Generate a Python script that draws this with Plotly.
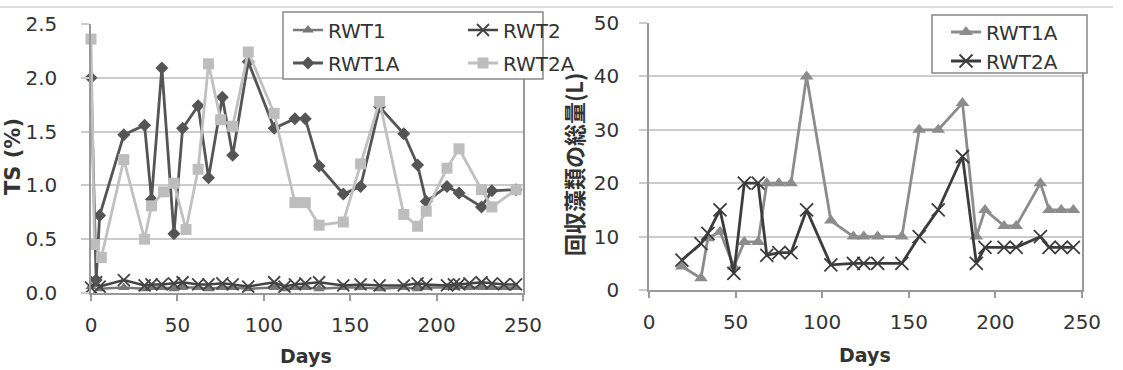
import plotly.graph_objects as go

# ---------------- data: left chart (TS %) ----------------
days_rwt1a = [0, 3, 5, 19, 31, 35, 41, 48, 53, 62, 68, 76, 82, 91, 106, 118, 124, 132, 146, 156, 167, 181, 189, 194, 206, 213, 226, 232, 246]
ts_rwt1a = [2.0, 0.12, 0.72, 1.47, 1.56, 0.87, 2.09, 0.55, 1.53, 1.74, 1.07, 1.82, 1.28, 2.15, 1.53, 1.62, 1.62, 1.18, 0.92, 0.99, 1.73, 1.48, 1.19, 0.85, 0.99, 0.93, 0.80, 0.95, 0.96]

days_rwt2a = [0, 2, 6, 19, 31, 35, 42, 48, 55, 62, 68, 75, 82, 91, 106, 118, 124, 132, 146, 156, 167, 181, 189, 194, 206, 213, 226, 232, 246]
ts_rwt2a = [2.36, 0.45, 0.33, 1.24, 0.50, 0.81, 0.94, 1.02, 0.59, 1.15, 2.13, 1.61, 1.55, 2.24, 1.67, 0.84, 0.84, 0.63, 0.66, 1.20, 1.78, 0.73, 0.62, 0.76, 1.16, 1.34, 0.96, 0.80, 0.96]

days_small = [0, 3, 5, 19, 31, 35, 41, 48, 53, 62, 68, 76, 82, 91, 106, 112, 118, 124, 132, 146, 156, 167, 181, 189, 194, 206, 210, 213, 219, 226, 232, 239, 246]
ts_rwt1 = [0.06, 0.08, 0.04, 0.05, 0.04, 0.05, 0.05, 0.04, 0.05, 0.05, 0.04, 0.05, 0.05, 0.04, 0.05, 0.04, 0.05, 0.05, 0.04, 0.05, 0.05, 0.04, 0.05, 0.04, 0.05, 0.05, 0.05, 0.06, 0.05, 0.05, 0.05, 0.05, 0.05]
ts_rwt2 = [0.05, 0.10, 0.06, 0.12, 0.07, 0.08, 0.08, 0.09, 0.10, 0.08, 0.08, 0.09, 0.08, 0.06, 0.10, 0.06, 0.08, 0.09, 0.10, 0.07, 0.08, 0.07, 0.07, 0.09, 0.08, 0.07, 0.08, 0.08, 0.09, 0.10, 0.09, 0.08, 0.08]

# ---------------- data: right chart (total recovered algae, L) ----------------
days_right = [19, 30, 34, 41, 49, 55, 63, 68, 75, 82, 91, 105, 118, 124, 132, 146, 156, 167, 181, 189, 194, 205, 212, 226, 231, 238, 245]
vol_rwt1a = [4.4, 2.2, 9.7, 10.9, 4.4, 9, 9, 20, 20, 20, 40, 13, 10, 10, 10, 10, 30, 30, 35, 10, 15, 12, 12, 20, 15, 15, 15]
vol_rwt2a = [5.6, 8.7, 10.6, 15, 3.1, 20, 20, 6.5, 7, 7, 15, 4.7, 5, 5, 5, 5, 10, 15, 25, 5, 8, 8, 8, 10, 8, 8, 8]

x_ticks = [0, 50, 100, 150, 200, 250]
ts_ticks = [0.0, 0.5, 1.0, 1.5, 2.0, 2.5]
ts_ticklabels = ["0.0", "0.5", "1.0", "1.5", "2.0", "2.5"]
vol_ticks = [0, 10, 20, 30, 40, 50]

W, H = 1123, 370
FONT = "DejaVu Sans, Verdana, sans-serif"
TXT = "#333333"
GRID = "#cccccc"
AXL = "#999999"

def px_x(p):
    return p / W

def px_y(p):
    return 1 - p / H

fig = go.Figure()

# left chart traces (row 1 of legend: RWT1, RWT2 ; row 2: RWT1A, RWT2A)
fig.add_trace(go.Scatter(x=days_small, y=ts_rwt1, name="RWT1", mode="lines+markers",
                         line=dict(color="#777777", width=2.5),
                         marker=dict(symbol="triangle-up", size=10, color="#777777"),
                         xaxis="x", yaxis="y", legend="legend", cliponaxis=False))
fig.add_trace(go.Scatter(x=days_small, y=ts_rwt2, name="RWT2", mode="lines+markers",
                         line=dict(color="#444444", width=2.5),
                         marker=dict(symbol="x-thin-open", size=12, color="#444444", line=dict(width=1.8, color="#444444")),
                         xaxis="x", yaxis="y", legend="legend", cliponaxis=False))
fig.add_trace(go.Scatter(x=days_rwt1a, y=ts_rwt1a, name="RWT1A", mode="lines+markers",
                         line=dict(color="#555555", width=2.8),
                         marker=dict(symbol="diamond", size=10, color="#555555"),
                         xaxis="x", yaxis="y", legend="legend2", cliponaxis=False))
fig.add_trace(go.Scatter(x=days_rwt2a, y=ts_rwt2a, name="RWT2A", mode="lines+markers",
                         line=dict(color="#c0c0c0", width=2.8),
                         marker=dict(symbol="square", size=11, color="#bdbdbd"),
                         xaxis="x", yaxis="y", legend="legend2", cliponaxis=False))

# right chart traces
fig.add_trace(go.Scatter(x=days_right, y=vol_rwt1a, name="RWT1A", mode="lines+markers",
                         line=dict(color="#8c8c8c", width=2.8),
                         marker=dict(symbol="triangle-up", size=12, color="#8c8c8c"),
                         xaxis="x2", yaxis="y2", legend="legend3", cliponaxis=False))
fig.add_trace(go.Scatter(x=days_right, y=vol_rwt2a, name="RWT2A", mode="lines+markers",
                         line=dict(color="#3c3c3c", width=2.8),
                         marker=dict(symbol="x-thin-open", size=13, color="#3c3c3c", line=dict(width=1.8, color="#3c3c3c")),
                         xaxis="x2", yaxis="y2", legend="legend3", cliponaxis=False))

xcommon = dict(range=[0, 250], tickvals=x_ticks, showgrid=False, zeroline=False,
               showline=True, linecolor=AXL, linewidth=1.5, automargin=False,
               ticks="outside", ticklen=6, tickcolor=AXL, tickwidth=1.5,
               ticklabelstandoff=7,
               tickfont=dict(family=FONT, size=20, color=TXT))
ycommon = dict(showgrid=True, gridcolor=GRID, gridwidth=1.5, zeroline=False,
               showline=True, linecolor=AXL, linewidth=1.5, mirror=True, automargin=False,
               ticks="outside", ticklen=8, tickcolor=GRID, tickwidth=1.5,
               tickfont=dict(family=FONT, size=20, color=TXT))

legfont = dict(family=FONT, size=20, color=TXT)
legcommon = dict(xanchor="left", yanchor="middle", bgcolor="rgba(0,0,0,0)", borderwidth=0,
                 font=legfont, traceorder="normal")

fig.update_layout(
    width=W, height=H,
    margin=dict(l=0, r=0, t=0, b=0, autoexpand=False),
    paper_bgcolor="white", plot_bgcolor="white",
    showlegend=True,
    xaxis=dict(domain=[px_x(91), px_x(523)], anchor="y", **xcommon),
    yaxis=dict(domain=[px_y(293), px_y(24)], anchor="x", range=[0, 2.5],
               tickvals=ts_ticks, ticktext=ts_ticklabels, ticklabelstandoff=20, **ycommon),
    xaxis2=dict(domain=[px_x(649), px_x(1082)], anchor="y2", **xcommon),
    yaxis2=dict(domain=[px_y(290), px_y(23)], anchor="x2", range=[0, 50],
                tickvals=vol_ticks, ticklabelstandoff=16, **ycommon),
    legend=dict(x=px_x(288), y=px_y(30), orientation="h", entrywidth=130,
                entrywidthmode="pixels", **legcommon),
    legend2=dict(x=px_x(288), y=px_y(63), orientation="h", entrywidth=130,
                 entrywidthmode="pixels", **legcommon),
    legend3=dict(x=px_x(946), y=px_y(46.5), orientation="v", **legcommon),
    shapes=[
        dict(type="line", xref="paper", yref="paper", x0=0, x1=px_x(1113),
             y0=px_y(7), y1=px_y(7), line=dict(color="#d0d0d0", width=1.5)),
        dict(type="rect", xref="paper", yref="paper", layer="above",
             x0=px_x(283), x1=px_x(543), y0=px_y(79), y1=px_y(12),
             fillcolor="white", line=dict(color="#888888", width=1.5)),
        dict(type="rect", xref="paper", yref="paper", layer="above",
             x0=px_x(932), x1=px_x(1087), y0=px_y(73), y1=px_y(15),
             fillcolor="white", line=dict(color="#888888", width=1.5)),
    ],
    annotations=[
        dict(text="<b>Days</b>", xref="paper", yref="paper", x=px_x(306), y=px_y(356),
             showarrow=False, xanchor="center", yanchor="middle",
             font=dict(family=FONT, size=19, color=TXT)),
        dict(text="<b>Days</b>", xref="paper", yref="paper", x=px_x(865), y=px_y(355),
             showarrow=False, xanchor="center", yanchor="middle",
             font=dict(family=FONT, size=19, color=TXT)),
        dict(text="<b>TS (%)</b>", xref="paper", yref="paper", x=px_x(13), y=px_y(157),
             showarrow=False, xanchor="center", yanchor="middle", textangle=-90,
             font=dict(family=FONT, size=21, color=TXT)),
        dict(text="<b>回収藻類の総量(L)</b>", xref="paper", yref="paper", x=px_x(573), y=px_y(165),
             showarrow=False, xanchor="center", yanchor="middle", textangle=-90,
             font=dict(family="Noto Sans CJK JP, DejaVu Sans, sans-serif", size=22, color=TXT)),
    ],
)

fig.write_html("out.html")
